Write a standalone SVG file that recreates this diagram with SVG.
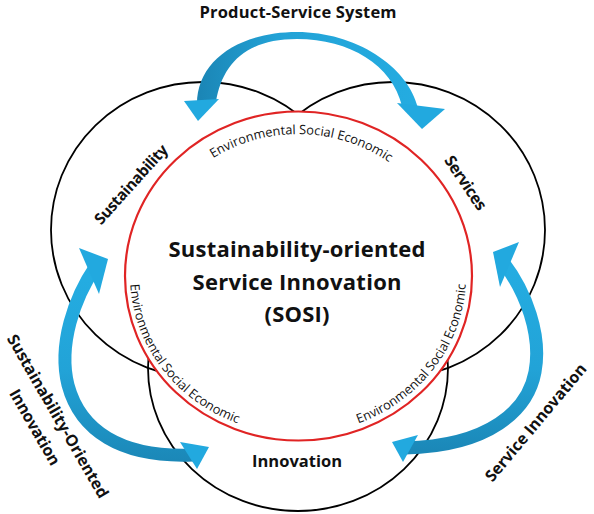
<svg xmlns="http://www.w3.org/2000/svg" width="594" height="514" viewBox="0 0 594 514">
<defs>
<style>
.ring{fill:none;stroke:#000;stroke-width:1.8}
.core{fill:#fff;stroke:#E02424;stroke-width:2.2}
.lbl{font-family:"Open Sans","Liberation Sans",sans-serif;font-weight:700;fill:#111;text-anchor:middle}
.arc{font-family:"Open Sans","Liberation Sans",sans-serif;font-size:12.8px;fill:#111;text-anchor:middle}
.head{fill:#22A9DF}
.shaft{fill:none;stroke-width:13}
</style>
<linearGradient id="gTop" gradientUnits="userSpaceOnUse" x1="200" y1="0" x2="420" y2="0">
<stop offset="0" stop-color="#1B86B6"/><stop offset="0.35" stop-color="#22A2D6"/><stop offset="1" stop-color="#24ACE1"/>
</linearGradient>
<linearGradient id="gL" gradientUnits="userSpaceOnUse" x1="0" y1="280" x2="0" y2="460">
<stop offset="0" stop-color="#24ACE1"/><stop offset="0.5" stop-color="#22A3D7"/><stop offset="1" stop-color="#1B88B8"/>
</linearGradient>
<linearGradient id="gR" gradientUnits="userSpaceOnUse" x1="0" y1="270" x2="0" y2="450">
<stop offset="0" stop-color="#24ACE1"/><stop offset="0.55" stop-color="#22A3D7"/><stop offset="1" stop-color="#1B88B8"/>
</linearGradient>
<path id="pTop" d="M155.2,227.4 A152,142 0 0 1 440.8,227.4"/>
<path id="pLeft" d="M160.4,185.4 A168,158 0 0 0 341.5,428.6"/>
<path id="pRight" d="M254.5,428.6 A168,158 0 0 0 435.6,185.4"/>
</defs>

<g id="sustainability">
<ellipse class="ring" cx="203" cy="230" rx="152" ry="148"/>
<text class="lbl" font-size="15.5" textLength="101" transform="translate(135,188) rotate(-48)">Sustainability</text>
</g>
<g id="services">
<ellipse class="ring" cx="393" cy="230" rx="152" ry="148"/>
<text class="lbl" font-size="16" textLength="62" transform="translate(461,186) rotate(56)">Services</text>
</g>
<g id="innovation">
<ellipse class="ring" cx="298" cy="368" rx="150" ry="143"/>
<text class="lbl" font-size="16.5" textLength="90" x="297" y="467">Innovation</text>
</g>
<g id="sosi">
<ellipse class="core" cx="298.5" cy="276" rx="173.5" ry="164.5"/>
<text class="arc"><textPath href="#pTop" startOffset="51%">Environmental Social Economic</textPath></text>
<text class="arc"><textPath href="#pLeft" startOffset="50%">Environmental Social Economic</textPath></text>
<text class="arc"><textPath href="#pRight" startOffset="50%">Environmental Social Economic</textPath></text>
<text class="lbl" font-size="22" x="297" y="257" textLength="257">Sustainability-oriented</text>
<text class="lbl" font-size="22" x="297" y="290" textLength="209">Service Innovation</text>
<text class="lbl" font-size="22" x="297" y="322" textLength="65">(SOSI)</text>
</g>

<g id="connectors">
<g id="pss-arrow">
<path fill="url(#gTop)" d="M197,104 C197,60 240,32 297,32 C355,32 408,66 418,108 L402,106 C392,65 350,39 297,39 C245,39 222,65 216,102 Z"/>
<polygon class="head" points="184,101 219,99 198,121"/>
<polygon class="head" points="397,103 445,109 422,129"/>
</g>
<g id="soi-arrow">
<path class="shaft" stroke="url(#gL)" d="M96,266 C74,298 58,345 68,385 C80,430 120,458 193,455"/>
<polygon class="head" points="79,248 108,259 99,294"/>
<polygon class="head" points="180,442 209,447 197,469"/>
</g>
<g id="si-arrow">
<path class="shaft" stroke="url(#gR)" d="M503,262 C526,292 542,335 535,372 C528,410 490,446 405,448"/>
<polygon class="head" points="519,242 493,252 500,287"/>
<polygon class="head" points="418,435 392,442 403,462"/>
</g>
<text class="lbl" font-size="16.5" x="298" y="18" textLength="197">Product-Service System</text>
<text class="lbl" font-size="16" textLength="186" transform="translate(53,419) rotate(60)">Sustainability-Oriented</text>
<text class="lbl" font-size="16" textLength="85" transform="translate(30,430) rotate(60)">Innovation</text>
<text class="lbl" font-size="16" textLength="148" transform="translate(540,426) rotate(-50)">Service Innovation</text>
</g>
</svg>
